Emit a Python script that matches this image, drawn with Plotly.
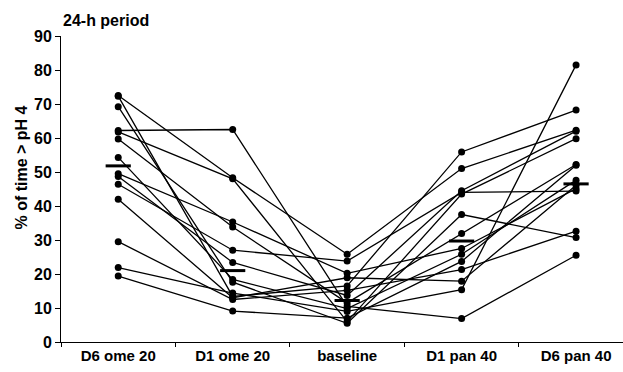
import plotly.graph_objects as go

categories = ["D6 ome 20", "D1 ome 20", "baseline", "D1 pan 40", "D6 pan 40"]

# per-subject values across the five periods
d6_ome20 = [62.2, 72.5, 61.8, 72.3, 69.2, 59.7, 49.5, 54.3, 48.7, 46.4, 42.0, 29.5, 21.9, 19.4]
d1_ome20 = [62.5, 48.3, 48.0, 13.4, 17.6, 33.8, 35.3, 18.4, 23.4, 27.0, 13.0, 12.5, 14.4, 9.1]
baseline = [10.5, 25.8, 6.0, 16.5, 5.5, 11.5, 20.2, 9.8, 13.7, 23.8, 18.9, 15.2, 9.0, 7.0]
d1_pan40 = [6.9, 51.0, 43.5, 55.9, 37.5, 31.9, 27.5, 25.8, 44.5, 44.0, 17.9, 21.3, 15.4, 23.7]
d6_pan40 = [25.5, 62.3, 59.8, 68.2, 30.7, 52.2, 45.1, 47.6, 62.0, 44.4, 46.1, 32.6, 81.5, 52.0]

# group mean markers
mean_values = [51.8, 21.0, 12.2, 29.7, 46.5]

fig = go.Figure()
for i in range(len(d6_ome20)):
    ys = [d6_ome20[i], d1_ome20[i], baseline[i], d1_pan40[i], d6_pan40[i]]
    fig.add_trace(go.Scatter(
        x=categories, y=ys, mode="lines+markers",
        line=dict(color="black", width=1.3),
        marker=dict(color="black", size=7),
        showlegend=False, hoverinfo="y"))

fig.add_trace(go.Scatter(
    x=categories, y=mean_values, mode="markers",
    marker=dict(symbol="line-ew", size=18, line=dict(color="black", width=3)),
    showlegend=False))

font_family = "Liberation Sans, Arial, sans-serif"
fig.update_layout(
    template="none",
    width=623, height=372,
    paper_bgcolor="white", plot_bgcolor="white",
    margin=dict(l=61, r=0, t=36, b=30, autoexpand=False),
    font=dict(family=font_family, color="black"),
    annotations=[
        dict(text="<b>24-h period</b>", xref="paper", yref="paper",
             x=0, y=1.0, xanchor="left", yanchor="bottom", yshift=5,
             showarrow=False, font=dict(size=16, family=font_family, color="black")),
        dict(text="<b>% of time > pH 4</b>", xref="paper", yref="paper",
             x=-0.07, y=0.569, xanchor="center", yanchor="middle", textangle=-90,
             showarrow=False, font=dict(size=16, family=font_family, color="black")),
    ],
)
fig.update_xaxes(
    type="category", range=[-0.5, 4.41], automargin=False,
    showline=True, linecolor="black", linewidth=1,
    ticks="outside", tickson="boundaries", ticklen=4, tickcolor="black",
    tickfont=dict(size=15, family=font_family, color="black", weight="bold"),
    showgrid=False, zeroline=False,
)
fig.update_yaxes(
    range=[0, 90], tickvals=[0, 10, 20, 30, 40, 50, 60, 70, 80, 90], automargin=False,
    showline=True, linecolor="black", linewidth=1,
    ticks="outside", ticklen=5, tickcolor="black",
    tickfont=dict(size=16, family=font_family, color="black", weight="bold"),
    showgrid=False, zeroline=False,
)

fig.write_html("out.html", config={"displayModeBar": False},
               post_script="document.body.style.margin='0';document.body.style.overflow='hidden';")
